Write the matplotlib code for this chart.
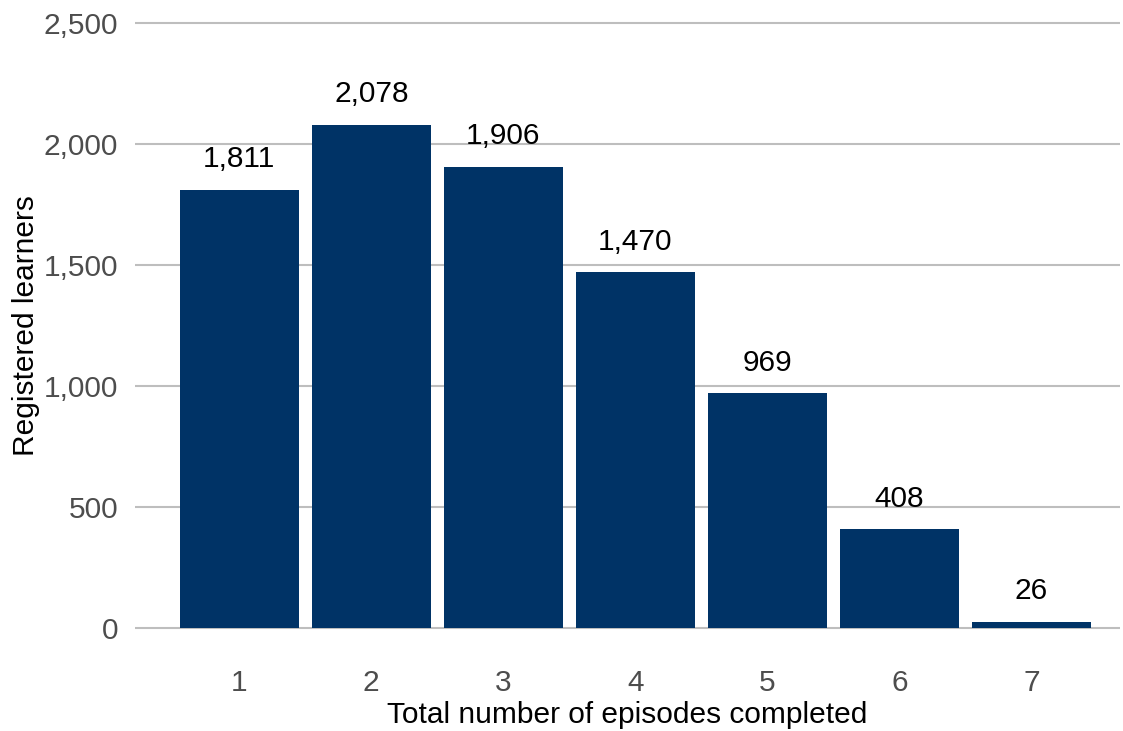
import matplotlib.pyplot as plt
from matplotlib.ticker import FuncFormatter

episodes = [1, 2, 3, 4, 5, 6, 7]
learners = [1811, 2078, 1906, 1470, 969, 408, 26]

BAR_COLOR = "#003366"
FS = 21.5

plt.rcParams['font.family'] = ['Liberation Sans', 'DejaVu Sans']

fig = plt.figure(figsize=(11.23, 7.31), dpi=100)
ax = fig.add_axes([0.1202, 0.1245, 0.877, 0.8605])

ax.bar(episodes, learners, width=0.9, color=BAR_COLOR, zorder=3)
for x, v in zip(episodes, learners):
    ax.annotate(f"{v:,}", (x, v), xytext=(0, 12), textcoords='offset points',
                ha='center', va='bottom', fontsize=FS, color='black')

ax.set_xlim(0.21, 7.67)
ax.set_ylim(-50, 2550)
ax.set_yticks([0, 500, 1000, 1500, 2000, 2500])
ax.yaxis.set_major_formatter(FuncFormatter(lambda v, p: f"{int(v):,}"))
ax.set_xticks(episodes)

ax.grid(axis='y', color='#BEBEBE', linewidth=1.5, zorder=0)
ax.grid(axis='x', visible=False)
for s in ax.spines.values():
    s.set_visible(False)
ax.tick_params(axis='both', length=0, labelsize=FS, labelcolor='#4D4D4D')
ax.tick_params(axis='y', pad=12)
ax.tick_params(axis='x', pad=21)

ax.set_xlabel("Total number of episodes completed", fontsize=FS, labelpad=3)
ax.set_ylabel("Registered learners", fontsize=FS, labelpad=3)

fig.savefig("out.png", dpi=100)
